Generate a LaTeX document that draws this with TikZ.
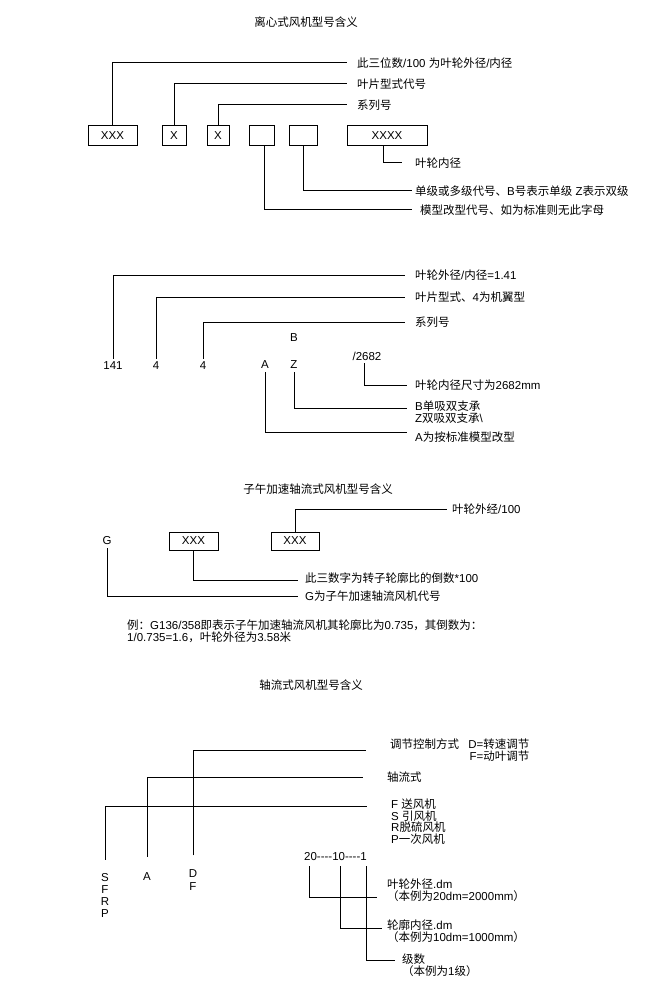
\documentclass[tikz,border=0pt]{standalone}
\usepackage{fontspec}
\setmainfont{Liberation Sans}
\newfontfamily\cjkfont{Noto Sans CJK SC}
\newfontfamily\latfont{Liberation Sans}
% switch to the CJK font for Chinese characters
\XeTeXinterchartokenstate=1
\newXeTeXintercharclass\cjkcls
\count255="3000
\loop\XeTeXcharclass\count255=\cjkcls\ifnum\count255<"9FFF\advance\count255 by 1\repeat
\count255="FF00
\loop\XeTeXcharclass\count255=\cjkcls\ifnum\count255<"FFEF\advance\count255 by 1\repeat
\XeTeXinterchartoks 0 \cjkcls={\cjkfont}
\XeTeXinterchartoks 4095 \cjkcls={\cjkfont}
\XeTeXinterchartoks \cjkcls 0={\latfont}
\XeTeXinterchartoks \cjkcls 4095={\latfont}
\newcommand\dsh{\mbox{-}}
\usetikzlibrary{positioning}

\begin{document}
\begin{tikzpicture}[
    x=1pt, y=-1pt,
    every node/.style={font=\fontsize{11.5}{12}\selectfont},
    box/.style={draw, line width=1pt, minimum height=20pt, inner sep=0pt},
    lbl/.style={anchor=west, inner sep=0pt, align=left},
    tag/.style={inner sep=3pt, align=center},
    lead/.style={line width=1pt}
]
    \useasboundingbox (0,0) rectangle (650,1000);

    % centrifugal fan
    \node (title1) at (306,22) {离心式风机型号含义};
    \node[box, minimum width=49pt] (b1) at (112.5,136) {XXX};
    \node[box, minimum width=24pt] (b2) at (174,136) {X};
    \node[box, minimum width=22pt] (b3) at (218,136) {X};
    \node[box, minimum width=25pt] (b4) at (261.5,136) {};
    \node[box, minimum width=28pt] (b5) at (303,136) {};
    \node[box, minimum width=80pt] (b6) at (387,136) {XXXX};
    \node[lbl] (t1) at (357,63) {此三位数/100 为叶轮外径/内径};
    \node[lbl] (t2) at (357,84) {叶片型式代号};
    \node[lbl] (t3) at (357,105) {系列号};
    \node[lbl] (t4) at (415,163) {叶轮内径};
    \node[lbl] (t5) at (415,191) {单级或多级代号、B号表示单级 Z表示双级};
    \node[lbl] (t6) at (420,210) {模型改型代号、如为标准则无此字母};
    \draw[lead] (b1.north) |- ([xshift=-10pt]t1.west);
    \draw[lead] (b2.north) |- ([xshift=-10pt]t2.west);
    \draw[lead] (b3.north) |- ([xshift=-10pt]t3.west);
    \draw[lead] ([xshift=-4pt]b6.south) |- ([xshift=-13pt]t4.west);
    \draw[lead] (b5.south) |- ([xshift=-3pt]t5.west);
    \draw[lead] ([xshift=2.5pt]b4.south) |- ([xshift=-8pt]t6.west);

    % example 141-4-4
    \node[tag] (n141) at (113,366) {141};
    \node[tag] (n4a) at (156,366) {4};
    \node[tag] (n4b) at (203,366) {4};
    \node[tag] (nA) at (265,365) {A};
    \node[tag] (nB) at (294,338) {B};
    \node[tag] (nZ) at (294,365) {Z};
    \node[tag] (n2682) at (367,356) {/2682};
    \node[lbl] (u1) at (415,275) {叶轮外径/内径=1.41};
    \node[lbl] (u2) at (415,297) {叶片型式、4为机翼型};
    \node[lbl] (u3) at (415,322) {系列号};
    \node[lbl] (u4) at (415,385) {叶轮内径尺寸为2682mm};
    \node[lbl] (u5) at (415,412) {B单吸双支承\\Z双吸双支承\textbackslash};
    \node[lbl] (u6) at (415,437) {A为按标准模型改型};
    \draw[lead] (n141.north) |- ([xshift=-10pt]u1.west);
    \draw[lead] (n4a.north) |- ([xshift=-10pt]u2.west);
    \draw[lead] (n4b.north) |- ([xshift=-10pt]u3.west);
    \draw[lead] ([xshift=-3pt]n2682.south) |- ([xshift=-8pt]u4.west);
    \draw[lead] (nZ.south) |- ([xshift=-8pt,yshift=4pt]u5.west);
    \draw[lead] (nA.south) |- ([xshift=-8pt,yshift=5pt]u6.west);

    % meridional acceleration axial fan
    \node (title2) at (318,489) {子午加速轴流式风机型号含义};
    \node[tag] (nG) at (107,541) {G};
    \node[box, minimum width=49pt, minimum height=18pt] (c1) at (193.5,541) {XXX};
    \node[box, minimum width=48pt, minimum height=18pt] (c2) at (295,541) {XXX};
    \node[lbl] (v1) at (452,509) {叶轮外经/100};
    \node[lbl] (v2) at (305,578) {此三数字为转子轮廓比的倒数*100};
    \node[lbl] (v3) at (305,596) {G为子午加速轴流风机代号};
    \node[lbl] (note) at (127,631) {例：G136/358即表示子午加速轴流风机其轮廓比为0.735，其倒数为：\\1/0.735=1.6，叶轮外径为3.58米};
    \draw[lead] (c2.north) |- ([xshift=-5pt]v1.west);
    \draw[lead] (c1.south) |- ([xshift=-7pt,yshift=-2pt]v2.west);
    \draw[lead] (nG.south) |- ([xshift=-7pt]v3.west);

    % axial fan
    \node (title3) at (311,685) {轴流式风机型号含义};
    \node[tag] (sfrp) at (105,895) {S\\F\\R\\P};
    \node[tag] (nA4) at (147,877) {A};
    \node[tag, font=\fontsize{11.5}{13}\selectfont] (ndf) at (193,880) {D\\F};
    \node[lbl, align=right] (w1) at (390,750) {调节控制方式\hspace{0.8em}D=转速调节\\F=动叶调节};
    \node[lbl] (w2) at (387,777) {轴流式};
    \node[lbl, font=\fontsize{11.5}{11.7}\selectfont] (w3) at (391,821.5) {F 送风机\\S 引风机\\R脱硫风机\\P一次风机};
    \node[anchor=east, inner sep=0pt] (num) at (367,857) {20\dsh\dsh\dsh\dsh10\dsh\dsh\dsh\dsh1};
    \node[lbl] (x1) at (387,890.5) {叶轮外径.dm\\（本例为20dm=2000mm）};
    \node[lbl] (x2) at (387,931) {轮廓内径.dm\\（本例为10dm=1000mm）};
    \node[lbl] (x3) at (402,965) {级数\\（本例为1级）};
    \draw[lead] ([yshift=11pt]ndf.north) |- ([xshift=-24pt]w1.west);
    \draw[lead] ([yshift=13pt]nA4.north) |- ([xshift=-24pt]w2.west);
    \draw[lead] ([yshift=10pt]sfrp.north) |- ([xshift=-24pt,yshift=15.5pt]w3.west);
    \draw[lead] ([xshift=-58pt,yshift=-5pt]num.south east) |- ([xshift=-10pt,yshift=-7pt]x1.west);
    \draw[lead] ([xshift=-27pt,yshift=-5pt]num.south east) |- ([xshift=-5pt,yshift=3pt]x2.west);
    \draw[lead] ([xshift=-1pt,yshift=-5pt]num.south east) |- ([xshift=-7pt,yshift=5pt]x3.west);
\end{tikzpicture}
\end{document}
